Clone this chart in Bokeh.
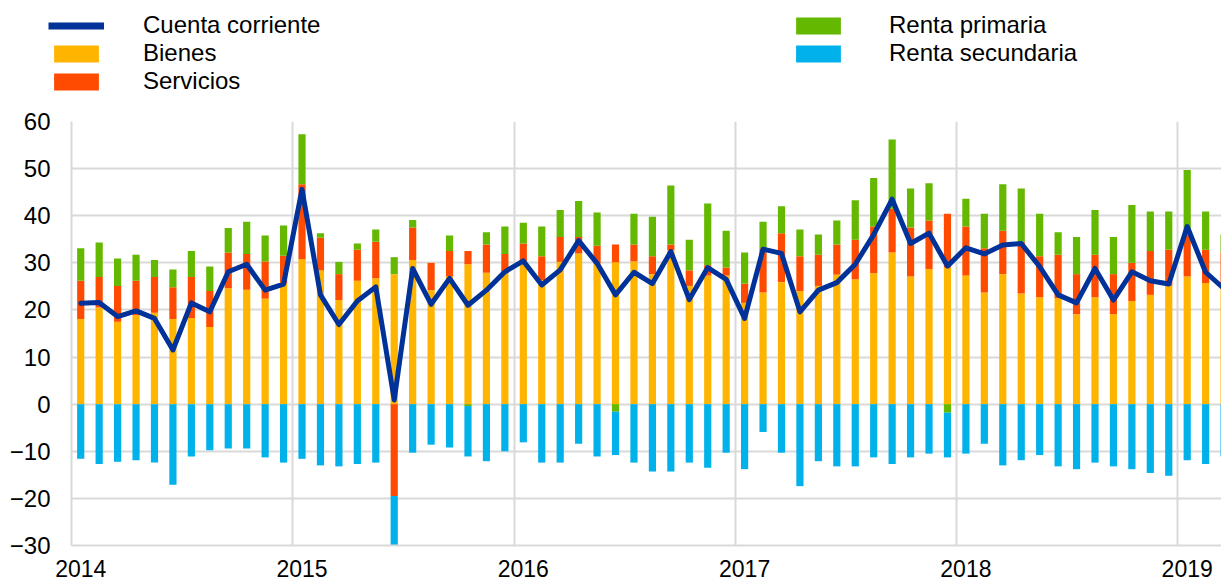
import numpy as np
from bokeh.plotting import figure
from bokeh.layouts import column
from bokeh.models import ColumnDataSource, FixedTicker, Legend, LegendItem, Range1d
from bokeh.embed import file_html
from bokeh.resources import INLINE

# ---------------- data ----------------
months = [f"{y}-{m:02d}" for y in range(2014, 2020) for m in range(1, 13)][:63]

bienes = [18.1, 20.5, 17.5, 18.9, 19.4, 18.1, 18.3, 16.4, 24.6, 24.3, 22.4, 25.6,
          30.8, 28.4, 22.1, 26.2, 26.7, 27.6, 30.6, 24.2, 27.1, 29.7, 27.9, 27.9,
          29.9, 26.3, 30.2, 32.0, 29.9, 30.1, 30.3, 27.6, 32.7, 25.1, 27.3, 27.3,
          21.5, 23.7, 25.9, 24.0, 25.1, 27.5, 26.5, 27.8, 32.2, 27.1, 28.7, 29.0,
          27.3, 23.7, 27.6, 23.5, 22.7, 22.5, 19.1, 22.7, 19.1, 21.9, 23.2, 25.1,
          27.1, 25.7, 25.0]
servicios = [8.1, 6.5, 7.6, 7.3, 7.6, 6.7, 8.7, 7.6, 7.6, 7.6, 7.9, 5.9,
             15.9, 6.9, 5.5, 6.6, 7.8, -19.5, 6.9, 5.8, 5.4, 2.8, 6.0, 4.0,
             4.2, 5.1, 5.3, 3.5, 3.7, 3.8, 3.6, 3.8, 1.2, 3.3, 2.2, 1.7,
             4.1, 9.4, 10.4, 7.4, 6.6, 6.4, 8.4, 9.9, 9.3, 10.4, 10.3, 11.4,
             10.4, 9.4, 9.2, 11.0, 8.7, 9.2, 8.5, 9.0, 8.5, 8.1, 9.3, 7.7,
             8.9, 7.1, 7.2]
renta_primaria = [6.9, 7.3, 5.8, 5.5, 3.6, 3.8, 5.5, 5.2, 5.2, 6.8, 5.5, 6.4,
                  10.6, 1.0, 2.6, 1.3, 2.6, 3.6, 1.6, 0.0, 3.3, -0.4, 2.6, 5.8,
                  4.4, 6.3, 5.7, 7.6, 7.1, -1.6, 6.5, 8.4, 12.5, 6.5, 13.1, 7.8,
                  6.6, 5.6, 5.7, 5.7, 4.3, 5.1, 8.4, 10.3, 14.7, 8.3, 7.9, -1.8,
                  5.9, 7.3, 9.9, 11.3, 9.0, 4.8, 7.9, 9.5, 7.9, 12.3, 8.4, 8.1,
                  13.7, 8.1, 3.8]
renta_secundaria = [-11.6, -12.7, -12.2, -11.9, -12.4, -17.1, -11.1, -9.8, -9.4, -9.4, -11.3, -12.4,
                    -11.6, -13.0, -13.2, -12.7, -12.4, -10.8, -10.3, -8.6, -9.2, -10.7, -12.1, -10.0,
                    -8.1, -12.4, -12.4, -8.4, -11.1, -9.2, -12.4, -14.3, -14.3, -12.4, -13.5, -10.3,
                    -13.8, -5.9, -10.3, -17.4, -12.1, -13.2, -13.2, -11.3, -12.7, -11.3, -10.5, -9.5,
                    -10.5, -8.4, -13.0, -11.9, -10.8, -13.2, -13.8, -12.4, -13.2, -13.8, -14.6, -15.2,
                    -11.9, -12.7, -11.1]
cuenta_corriente = [21.4, 21.6, 18.6, 19.8, 18.2, 11.5, 21.5, 19.6, 28.1, 29.7, 24.2, 25.5,
                    45.6, 23.2, 16.9, 21.9, 24.9, 0.9, 28.8, 21.2, 26.7, 21.0, 24.2, 28.1,
                    30.4, 25.3, 28.5, 34.7, 29.9, 23.2, 28.0, 25.6, 32.4, 22.2, 29.0, 26.5,
                    18.2, 32.9, 32.0, 19.6, 24.2, 25.8, 29.7, 36.0, 43.5, 34.1, 36.3, 29.3,
                    33.2, 31.9, 33.8, 34.1, 29.2, 23.2, 21.5, 28.8, 22.1, 28.1, 26.2, 25.5,
                    37.7, 28.0, 24.5]

years = ["2014", "2015", "2016", "2017", "2018", "2019"]
y_ticks = [-30, -20, -10, 0, 10, 20, 30, 40, 50, 60]

# ---------------- styling ----------------
FONT = "Liberation Sans"
C_LINE = "#003299"
C_BIENES = "#FFB400"
C_SERV = "#FF4B00"
C_PRIM = "#65B800"
C_SEC = "#00B1EA"
GRID = "#d9d9d9"
W = 1221
LEG_H = 100

n = len(months)
x = np.arange(n) + 0.5

pos = np.zeros(n)
neg = np.zeros(n)
stacks = {}
for name, vals in [("bienes", bienes), ("servicios", servicios),
                   ("primaria", renta_primaria), ("secundaria", renta_secundaria)]:
    v = np.array(vals, dtype=float)
    bottom = np.where(v >= 0, pos, neg)
    top = bottom + v
    pos = pos + np.where(v >= 0, v, 0)
    neg = neg + np.where(v < 0, v, 0)
    stacks[name] = ColumnDataSource(dict(x=x, bottom=bottom, top=top, month=months))

# ---------------- main chart ----------------
p = figure(width=W, height=585 - LEG_H, output_backend="svg", toolbar_location=None,
           x_range=Range1d(0, 62.36), y_range=Range1d(-30, 60),
           min_border_left=71, min_border_right=0, min_border_top=21, min_border_bottom=40)
p.outline_line_color = None
p.background_fill_color = "white"
p.border_fill_color = "white"

bw = 0.39
colors = {"bienes": C_BIENES, "servicios": C_SERV, "primaria": C_PRIM, "secundaria": C_SEC}
for name in ["bienes", "servicios", "primaria", "secundaria"]:
    p.vbar(x="x", width=bw, bottom="bottom", top="top", source=stacks[name],
           fill_color=colors[name], line_color=None)

line_src = ColumnDataSource(dict(x=x, y=cuenta_corriente, month=months))
p.line(x="x", y="y", source=line_src, line_color=C_LINE, line_width=5,
       line_join="round", line_cap="round")

year_starts = [12 * i for i in range(len(years))]
year_label_pos = [12 * i + 0.5 for i in range(len(years))]
p.xaxis.ticker = FixedTicker(ticks=year_label_pos)
p.xaxis.major_label_overrides = {pos_: lab for pos_, lab in zip(year_label_pos, years)}
p.xgrid.ticker = FixedTicker(ticks=year_starts)
p.yaxis.ticker = FixedTicker(ticks=y_ticks)
p.ygrid.ticker = FixedTicker(ticks=y_ticks)

for g in (p.xgrid, p.ygrid):
    g.grid_line_color = GRID
    g.grid_line_width = 2

for ax in (p.xaxis, p.yaxis):
    ax.axis_line_color = GRID
    ax.axis_line_width = 2
    ax.major_tick_out = 0
    ax.major_tick_in = 0
    ax.minor_tick_out = 0
    ax.minor_tick_in = 0
    ax.major_label_text_font = FONT
    ax.major_label_text_color = "#000000"
p.xaxis.major_label_text_font_size = "23px"
p.yaxis.major_label_text_font_size = "24px"
p.xaxis.major_label_standoff = 14
p.yaxis.major_label_standoff = 21

# ---------------- legend strip ----------------
lg = figure(width=W, height=LEG_H, output_backend="svg", toolbar_location=None,
            x_axis_type=None, y_axis_type=None,
            x_range=Range1d(0, 1), y_range=Range1d(0, 1),
            min_border_left=0, min_border_right=0, min_border_top=0, min_border_bottom=0)
lg.grid.visible = False
lg.outline_line_color = None
lg.background_fill_color = "white"
lg.border_fill_color = "white"
for fig in (lg, p):
    if "frame_align" in fig.properties():
        fig.frame_align = False

# keys only: a point outside the visible range, so nothing is drawn in the strip itself
r_line = lg.line(x=[-5, -4], y=[-5, -5], line_color=C_LINE, line_width=7)
r_b = lg.vbar(x=[-5], top=[-4], bottom=[-5], width=0.1, fill_color=C_BIENES, line_color=None)
r_s = lg.vbar(x=[-5], top=[-4], bottom=[-5], width=0.1, fill_color=C_SERV, line_color=None)
r_p = lg.vbar(x=[-5], top=[-4], bottom=[-5], width=0.1, fill_color=C_PRIM, line_color=None)
r_c = lg.vbar(x=[-5], top=[-4], bottom=[-5], width=0.1, fill_color=C_SEC, line_color=None)


def make_legend(items, loc, standoff):
    return Legend(items=items, location=loc, orientation="vertical",
                  border_line_color=None, background_fill_alpha=0,
                  padding=0, margin=0, spacing=0,
                  glyph_width=56, glyph_height=21, label_height=27,
                  label_standoff=standoff, label_text_font=FONT,
                  label_text_font_size="24px", label_text_color="#000000")


leg1 = make_legend([
    LegendItem(label="Cuenta corriente", renderers=[r_line]),
    LegendItem(label="Bienes", renderers=[r_b]),
    LegendItem(label="Servicios", renderers=[r_s]),
], (48, 5), 39)
leg2 = make_legend([
    LegendItem(label="Renta primaria", renderers=[r_p]),
    LegendItem(label="Renta secundaria", renderers=[r_c]),
], (790, 33), 43)
lg.add_layout(leg1)
lg.add_layout(leg2)

layout = column(lg, p, spacing=0)
open("out.html", "w").write(file_html(layout, INLINE))
